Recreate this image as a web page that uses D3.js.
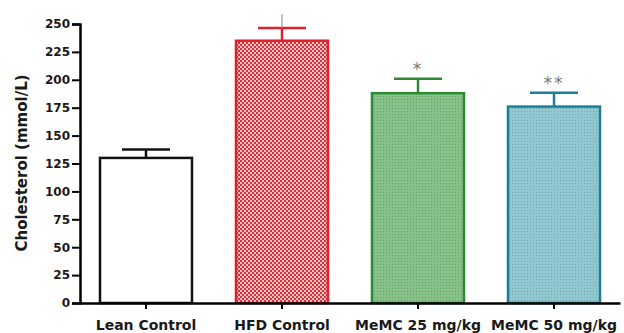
<!DOCTYPE html>
<html>
<head>
<meta charset="utf-8">
<script src="https://cdn.jsdelivr.net/npm/d3@7"></script>
<style>
  body { margin: 0; background: #fff; }
  text { font-family: "DejaVu Sans", sans-serif; font-weight: bold; fill: #1a1a1a; }
</style>
</head>
<body>
<svg id="chart" width="624" height="333"></svg>
<script>
// values
const groups = ['Lean Control', 'HFD Control', 'MeMC 25 mg/kg', 'MeMC 50 mg/kg']
const means = [130, 235, 188, 176]
const sems = [7.5, 11.5, 13, 12.5]
const marks = ['', '', '*', '**']
const yTicks = [0, 25, 50, 75, 100, 125, 150, 175, 200, 225, 250]

const strokes = ['#111', '#e0202c', '#2c8a32', '#1d7f96']
const fills = ['#fff', 'url(#pRed)', 'url(#pGreen)', 'url(#pTeal)']

const svg = d3.select('#chart')
const margin = { left: 80, top: 24, right: 4, bottom: 30 }
const height = 333 - margin.top - margin.bottom   // 279

const defs = svg.append('defs')

// red checker
const pr = defs.append('pattern').attr('id', 'pRed').attr('patternUnits', 'userSpaceOnUse')
  .attr('width', 4).attr('height', 4)
pr.append('rect').attr('width', 4).attr('height', 4).attr('fill', '#f6c2c4')
pr.append('rect').attr('width', 2).attr('height', 2).attr('fill', '#d8343e')
pr.append('rect').attr('x', 2).attr('y', 2).attr('width', 2).attr('height', 2).attr('fill', '#d8343e')

// green fine dots
const pg = defs.append('pattern').attr('id', 'pGreen').attr('patternUnits', 'userSpaceOnUse')
  .attr('width', 3).attr('height', 3)
pg.append('rect').attr('width', 3).attr('height', 3).attr('fill', '#88c28a')
pg.append('rect').attr('width', 1).attr('height', 1).attr('fill', '#5ea465')

// teal fine dots
const pt = defs.append('pattern').attr('id', 'pTeal').attr('patternUnits', 'userSpaceOnUse')
  .attr('width', 3).attr('height', 3)
pt.append('rect').attr('width', 3).attr('height', 3).attr('fill', '#93c7cf')
pt.append('rect').attr('width', 1).attr('height', 1).attr('fill', '#67a9b5')

const x = d3.scaleBand()
  .domain(groups)
  .range([0, 540])
  .paddingInner(0.3235)
  .paddingOuter(0.147)

const y = d3.scaleLinear()
  .domain([0, 250])
  .range([height, 0])

const g = svg.append('g').attr('transform', 'translate(' + margin.left + ',' + margin.top + ')')

// bars
g.selectAll('.bar')
  .data(groups)
  .enter().append('rect')
  .attr('class', 'bar')
  .attr('x', d => x(d))
  .attr('y', (d, i) => y(means[i]))
  .attr('width', x.bandwidth())
  .attr('height', (d, i) => height - y(means[i]))
  .attr('fill', (d, i) => fills[i])
  .attr('stroke', (d, i) => strokes[i])
  .attr('stroke-width', 2.5)

// error bars (upper only)
const capW = 48
groups.forEach((d, i) => {
  const cx = x(d) + x.bandwidth() / 2
  g.append('line')
    .attr('x1', cx).attr('x2', cx)
    .attr('y1', y(means[i])).attr('y2', y(means[i] + sems[i]))
    .attr('stroke', strokes[i]).attr('stroke-width', 2.5)
  g.append('line')
    .attr('x1', cx - capW / 2).attr('x2', cx + capW / 2)
    .attr('y1', y(means[i] + sems[i])).attr('y2', y(means[i] + sems[i]))
    .attr('stroke', strokes[i]).attr('stroke-width', 2.5)
  if (marks[i]) {
    g.append('text')
      .attr('x', cx)
      .attr('y', y(means[i] + sems[i]) - 4)
      .attr('text-anchor', 'middle')
      .attr('font-size', 17)
      .style('fill', '#777')
      .style('font-weight', 'normal')
      .attr('letter-spacing', 2)
      .text(marks[i])
  }
})

// thin marker above HFD
{
  const cx = x(groups[1]) + x.bandwidth() / 2
  g.append('line')
    .attr('x1', cx).attr('x2', cx)
    .attr('y1', y(means[1] + sems[1])).attr('y2', y(means[1] + sems[1]) - 14)
    .attr('stroke', '#888').attr('stroke-width', 1)
}

// axes
const yAxis = d3.axisLeft(y).tickValues(yTicks).tickSize(8).tickPadding(2)
const ya = g.append('g').call(yAxis)
ya.select('.domain').attr('stroke', '#000').attr('stroke-width', 2.5)
ya.selectAll('.tick line').attr('stroke', '#000').attr('stroke-width', 2)
ya.selectAll('.tick text').attr('font-size', 12).style('font-family', '"DejaVu Sans", sans-serif').style('fill', '#1a1a1a')

const xAxis = d3.axisBottom(x).tickSize(6).tickSizeOuter(0).tickPadding(11)
const xa = g.append('g').attr('transform', 'translate(0,' + height + ')').call(xAxis)
xa.select('.domain').attr('stroke', '#000').attr('stroke-width', 2.5)
xa.selectAll('.tick line').attr('stroke', '#000').attr('stroke-width', 2)
xa.selectAll('.tick text').attr('font-size', 14).style('font-family', '"DejaVu Sans", sans-serif').style('fill', '#1a1a1a')

// y title
svg.append('text')
  .attr('transform', 'translate(27,' + 163 + ') rotate(-90)')
  .attr('text-anchor', 'middle')
  .attr('font-size', 15)
  .text('Cholesterol (mmol/L)')
</script>
</body>
</html>
